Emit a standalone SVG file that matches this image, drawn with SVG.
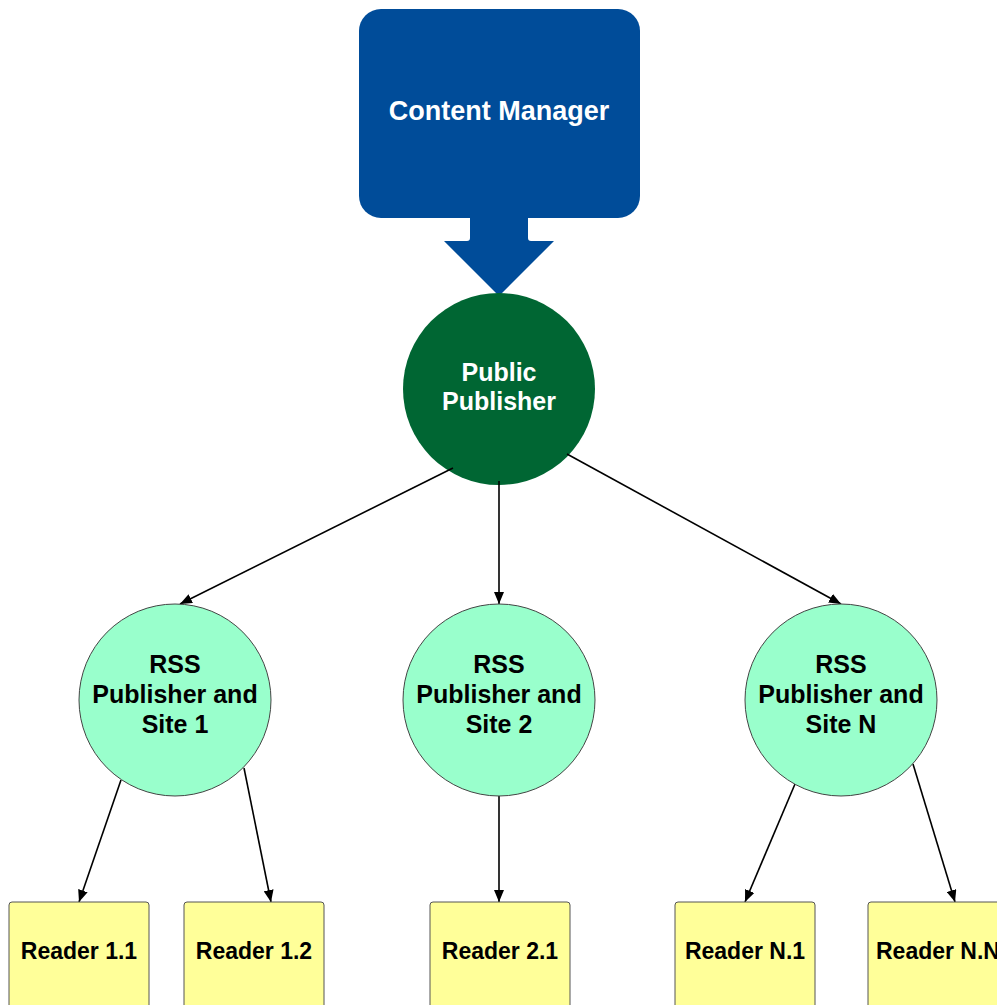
<svg xmlns="http://www.w3.org/2000/svg" width="997" height="1005" viewBox="0 0 997 1005">
<style>
text{font-family:"Liberation Sans",Arial,sans-serif;font-weight:bold;text-anchor:middle}
.rss{fill:#99ffcc;stroke:#444;stroke-width:1}
.rd{fill:#ffff99;stroke:#555;stroke-width:1}
.edge{stroke:#000;stroke-width:1.6;fill:none;marker-end:url(#ah)}
</style>
<defs>
<marker id="ah" viewBox="0 0 12 10" refX="12" refY="5" markerWidth="12" markerHeight="10" markerUnits="userSpaceOnUse" orient="auto">
<path d="M0,0 L12,5 L0,10 Z" fill="#000"/>
</marker>
</defs>
<rect width="997" height="1005" fill="#fff"/>
<g id="content-manager">
<rect x="359" y="9" width="281" height="209" rx="22" fill="#004c99"/>
<path d="M470,216 L528,216 L528,238 Q528,241 531,241 L554,241 L499,296 L444,241 L467,241 Q470,241 470,238 Z" fill="#004c99"/>
<text x="499" y="119.5" font-size="27" fill="#fff">Content Manager</text>
</g>
<g id="public-publisher">
<circle cx="499" cy="389" r="96" fill="#006633"/>
<text x="499" y="381" font-size="25" fill="#fff">Public</text>
<text x="499" y="410" font-size="25" fill="#fff">Publisher</text>
</g>
<g id="connectors">
<line class="edge" x1="453" y1="468" x2="180" y2="604"/>
<line class="edge" x1="499" y1="481" x2="499" y2="604"/>
<line class="edge" x1="567" y1="454" x2="841" y2="604"/>
<line class="edge" x1="121" y1="780" x2="79" y2="902"/>
<line class="edge" x1="244" y1="768" x2="271" y2="902"/>
<line class="edge" x1="499" y1="796" x2="499" y2="902"/>
<line class="edge" x1="795" y1="784" x2="745" y2="902"/>
<line class="edge" x1="913" y1="764" x2="955" y2="902"/>
</g>
<g id="rss-1">
<circle class="rss" cx="175" cy="700" r="96"/>
<text x="175" y="673" font-size="25">RSS</text>
<text x="175" y="703" font-size="25">Publisher and</text>
<text x="175" y="733" font-size="25">Site 1</text>
</g>
<g id="rss-2">
<circle class="rss" cx="499" cy="700" r="96"/>
<text x="499" y="673" font-size="25">RSS</text>
<text x="499" y="703" font-size="25">Publisher and</text>
<text x="499" y="733" font-size="25">Site 2</text>
</g>
<g id="rss-n">
<circle class="rss" cx="841" cy="700" r="96"/>
<text x="841" y="673" font-size="25">RSS</text>
<text x="841" y="703" font-size="25">Publisher and</text>
<text x="841" y="733" font-size="25">Site N</text>
</g>
<g id="reader-1-1">
<rect class="rd" x="9" y="902" width="140" height="110" rx="3"/>
<text x="79" y="959" font-size="23">Reader 1.1</text>
</g>
<g id="reader-1-2">
<rect class="rd" x="184" y="902" width="140" height="110" rx="3"/>
<text x="254" y="959" font-size="23">Reader 1.2</text>
</g>
<g id="reader-2-1">
<rect class="rd" x="430" y="902" width="140" height="110" rx="3"/>
<text x="500" y="959" font-size="23">Reader 2.1</text>
</g>
<g id="reader-n-1">
<rect class="rd" x="675" y="902" width="140" height="110" rx="3"/>
<text x="745" y="959" font-size="23">Reader N.1</text>
</g>
<g id="reader-n-n">
<rect class="rd" x="868" y="902" width="140" height="110" rx="3"/>
<text x="938" y="959" font-size="23">Reader N.N</text>
</g>
</svg>
